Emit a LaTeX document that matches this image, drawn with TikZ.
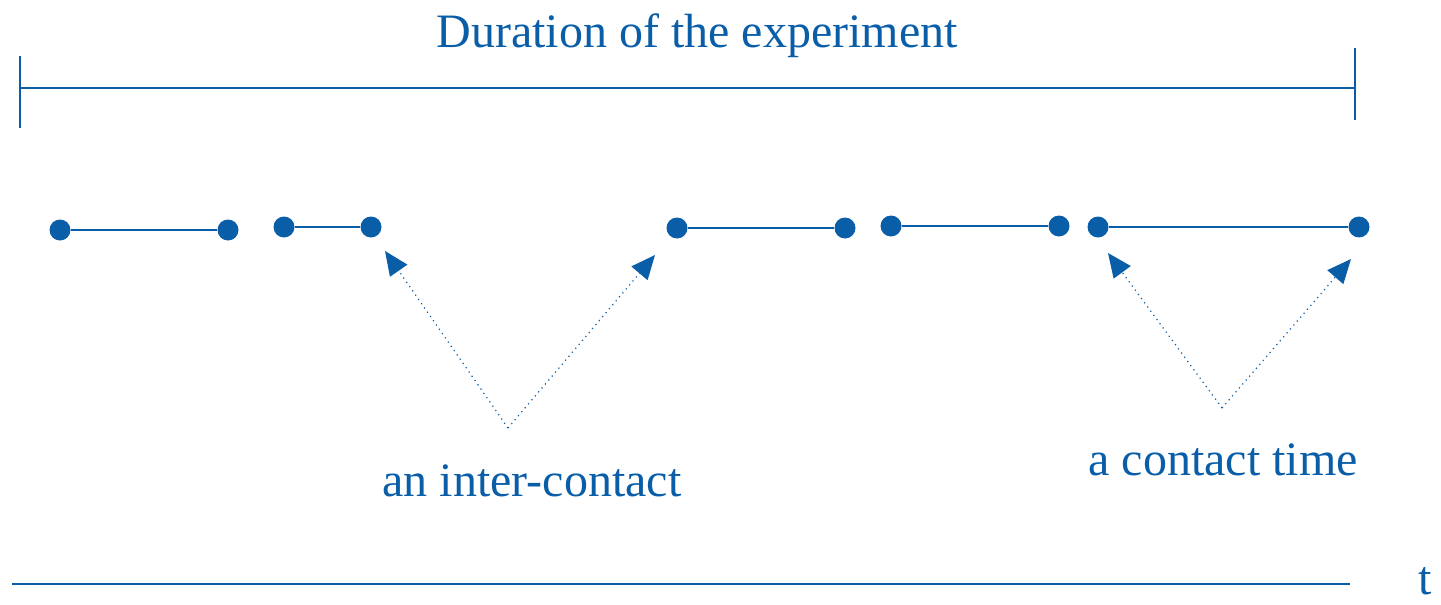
\documentclass[tikz,border=0pt]{standalone}
\usepackage{fontspec}
\setmainfont{Liberation Serif}
\usetikzlibrary{arrows.meta}
\definecolor{ink}{HTML}{0A5EA8}
\begin{document}
\begin{tikzpicture}[x=0.5pt,y=-0.5pt,
  rule/.style={draw=ink,line width=1pt},
  seg/.style={draw=ink,line width=0.9pt},
  dot/.style={circle,fill=ink,inner sep=0pt,minimum size=10.5pt},
  pointer/.style={draw=ink,line width=0.6pt,dotted,-{Triangle[length=12pt,width=10.5pt]}},
  lbl/.style={text=ink,font=\fontsize{24}{28}\selectfont,inner sep=0pt}]
\useasboundingbox (0,0) rectangle (1441,605);
% duration bar
\coordinate (tl1) at (20,56); \coordinate (tl2) at (20,128);
\coordinate (tr1) at (1355,48); \coordinate (tr2) at (1355,120);
\coordinate (hl) at (20,88); \coordinate (hr) at (1355,88);
\draw[rule] (tl1) -- (tl2);
\draw[rule] (tr1) -- (tr2);
\draw[rule] (hl) -- (hr);
\node[lbl,anchor=base] (title) at (697,47) {Duration of the experiment};
% contacts
\node[dot] (a1) at (60,230) {}; \node[dot] (a2) at (228,230) {};
\node[dot] (b1) at (284,227) {}; \node[dot] (b2) at (371,227) {};
\node[dot] (c1) at (677,228) {}; \node[dot] (c2) at (845,228) {};
\node[dot] (d1) at (891,226) {}; \node[dot] (d2) at (1059,226) {};
\node[dot] (e1) at (1098,227) {}; \node[dot] (e2) at (1359,227) {};
\draw[seg] (a1) -- (a2);
\draw[seg] (b1) -- (b2);
\draw[seg] (c1) -- (c2);
\draw[seg] (d1) -- (d2);
\draw[seg] (e1) -- (e2);
% pointers
\coordinate (v1) at (508,428);
\coordinate (p1) at (385,251); \coordinate (p2) at (655,255);
\draw[pointer] (v1) -- (p1);
\draw[pointer] (v1) -- (p2);
\coordinate (v2) at (1222,408);
\coordinate (p3) at (1108,253); \coordinate (p4) at (1351,259);
\draw[pointer] (v2) -- (p3);
\draw[pointer] (v2) -- (p4);
\node[lbl,anchor=base] (inter) at (532,496) {an inter-contact};
\node[lbl,anchor=base] (contact) at (1223,475) {a contact time};
% time axis
\coordinate (ax1) at (12,584); \coordinate (ax2) at (1350,584);
\draw[rule] (ax1) -- (ax2);
\node[lbl,anchor=base] (t) at (1425,594) {t};
\end{tikzpicture}
\end{document}
